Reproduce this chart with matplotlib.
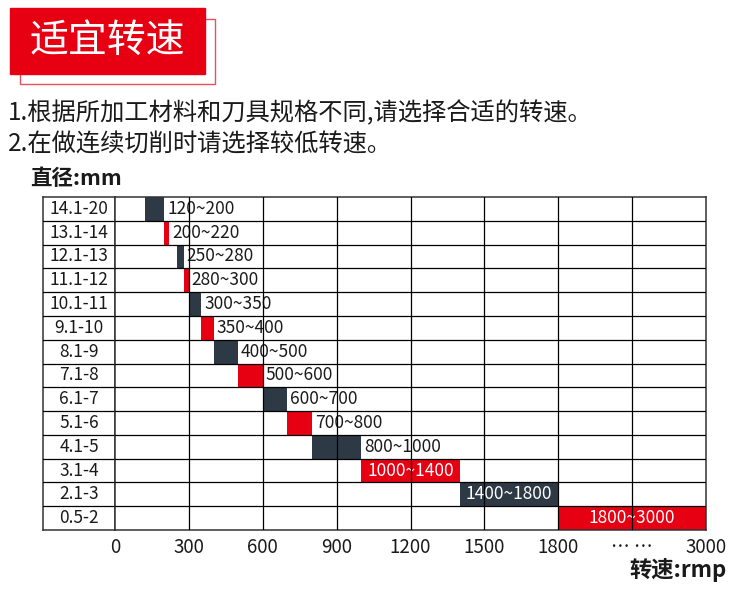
import numpy as np
import matplotlib
matplotlib.use("Agg")
import matplotlib.pyplot as plt
from matplotlib.patches import Rectangle

plt.rcParams['font.family'] = ['Noto Sans CJK SC', 'DejaVu Sans']

# data
diameters = ["14.1-20", "13.1-14", "12.1-13", "11.1-12", "10.1-11", "9.1-10", "8.1-9",
             "7.1-8", "6.1-7", "5.1-6", "4.1-5", "3.1-4", "2.1-3", "0.5-2"]
speed_lo = [120, 200, 250, 280, 300, 350, 400, 500, 600, 700, 800, 1000, 1400, 1800]
speed_hi = [200, 220, 280, 300, 350, 400, 500, 600, 700, 800, 1000, 1400, 1800, 3000]
tick_values = [0, 300, 600, 900, 1200, 1500, 1800, 2400, 3000]
tick_labels = ["0", "300", "600", "900", "1200", "1500", "1800", "… …", "3000"]
title = "适宜转速"
notes = ["1.根据所加工材料和刀具规格不同,请选择合适的转速。",
         "2.在做连续切削时请选择较低转速。"]
y_title = "直径:mm"
x_title = "转速:rmp"

W, H = 750, 593
RED = "#e60012"
DARK = "#2d3a45"
INK = "#1a1a1a"


def fx(px):
    return px / W


def fy(py):
    return 1 - py / H


# axis is linear up to 1800, then squeezed to half scale
def fwd(v):
    v = np.asarray(v, dtype=float)
    return np.where(v <= 1800, v, 1800 + (v - 1800) / 2)


def inv(u):
    u = np.asarray(u, dtype=float)
    return np.where(u <= 1800, u, 1800 + (u - 1800) * 2)


fig = plt.figure(figsize=(W / 100, H / 100), dpi=100)

# header box
fig.add_artist(Rectangle((fx(20), fy(84)), fx(195), 65 / H, transform=fig.transFigure,
                         fill=False, ec="#e8505b", lw=1, zorder=1))
fig.add_artist(Rectangle((fx(10), fy(74)), fx(195), 66 / H, transform=fig.transFigure,
                         color=RED, zorder=2))
fig.text(fx(107), fy(42), title, color="white", fontsize=28, ha="center", va="center", zorder=3)

fig.text(fx(8), fy(113), notes[0], fontsize=17.5, va="center", color=INK)
fig.text(fx(8), fy(145), notes[1], fontsize=17.5, va="center", color=INK)
fig.text(fx(30), fy(178), y_title, fontsize=15.5, fontweight="bold", va="center", color=INK)
fig.text(fx(727), fy(570), x_title, fontsize=16, fontweight="bold", ha="right", va="center",
         color=INK)

n = len(diameters)
rows = np.arange(n)
bottom = fy(530)
height = (530 - 197) / H

lab_ax = fig.add_axes([fx(43), bottom, fx(115 - 43), height])
ax = fig.add_axes([fx(115), bottom, fx(706 - 115), height])

for a in (lab_ax, ax):
    a.set_ylim(n - 0.5, -0.5)
    a.tick_params(left=False, labelleft=False, bottom=False)
    for s in a.spines.values():
        s.set_color("#333333")
        s.set_linewidth(1.1)
    for b in rows[:-1] + 0.5:
        a.axhline(b, color="black", lw=0.9, zorder=5)

lab_ax.set_xlim(0, 1)
lab_ax.set_xticks([])
for i, d in enumerate(diameters):
    lab_ax.text(0.5, i, d, ha="center", va="center", fontsize=12.5, color=INK)

ax.set_xscale("function", functions=(fwd, inv))
ax.set_xlim(0, 3000)
lo = np.array(speed_lo)
hi = np.array(speed_hi)
colors = [DARK if i % 2 == 0 else RED for i in range(n)]
ax.barh(rows, hi - lo, left=lo, height=1.0, color=colors, zorder=2)

for i in range(n):
    label = f"{speed_lo[i]}~{speed_hi[i]}"
    if hi[i] - lo[i] >= 400:
        mid = inv((fwd(lo[i]) + fwd(hi[i])) / 2)
        ax.text(mid, i, label, ha="center", va="center", fontsize=12.5, color="white", zorder=4)
    else:
        ax.annotate(label, xy=(hi[i], i), xytext=(2, 0), textcoords="offset points",
                    ha="left", va="center", fontsize=12.5, color=INK, zorder=4)

for t in tick_values[1:-1]:
    ax.axvline(t, color="black", lw=0.9, zorder=5)

ax.set_xticks(tick_values, tick_labels)
ax.tick_params(axis="x", length=0, pad=5, labelsize=13.5, labelcolor=INK)

fig.savefig("out.png", dpi=100)
